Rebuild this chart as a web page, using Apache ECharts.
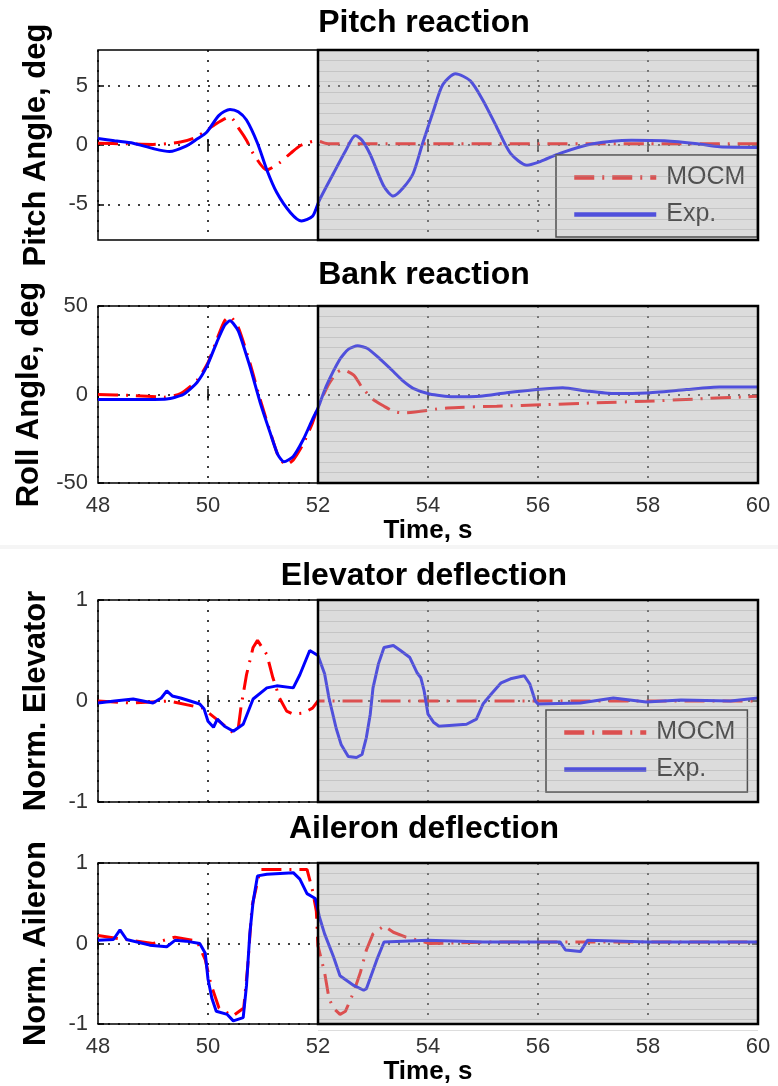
<!DOCTYPE html>
<html>
<head>
<meta charset="utf-8">
<script src="https://cdn.jsdelivr.net/npm/echarts@6/dist/echarts.min.js"></script>
<style>
  html, body { margin: 0; padding: 0; background: #fff; }
  #main { width: 778px; height: 1086px; }
</style>
</head>
<body>
<div id="main"></div>
<script>
// time axis (s) and shaded span
const timeMin = 48, timeMax = 60, timeStep = 2;
const shadeStart = 52, shadeEnd = 60;

const pitchTicks = [-5, 0, 5];
const bankTicks = [-50, 0, 50];
const normTicks = [-1, 0, 1];

// Pitch reaction, deg
const pitchExp = [[48, 0.55], [48.3, 0.35], [48.64, 0.15], [49.0, -0.3], [49.3, -0.55], [49.6, -0.1], [49.8, 0.5],
  [49.98, 1.1], [50.2, 2.5], [50.4, 3.0], [50.55, 2.8], [50.7, 2.1], [50.9, 0.15], [51.07, -2.1], [51.25, -4.0],
  [51.5, -5.7], [51.7, -6.4], [51.9, -6.0], [52.02, -4.7], [52.28, -2.4], [52.5, -0.5], [52.68, 0.8], [52.8, 0.4],
  [52.95, -0.8], [53.2, -3.5], [53.37, -4.3], [53.55, -3.6], [53.73, -2.4], [53.9, 0.1], [54.1, 2.9], [54.27, 5.1],
  [54.5, 6.0], [54.77, 5.4], [55.0, 3.75], [55.25, 1.5], [55.5, -0.7], [55.8, -1.7], [56.04, -1.4], [56.4, -0.7],
  [57.0, 0.1], [57.7, 0.4], [58.3, 0.35], [58.9, 0.1], [59.3, -0.15], [60, -0.2]];
const pitchMocm = [[48, 0.15], [48.5, 0.1], [49.0, 0.05], [49.5, 0.25], [49.8, 0.7], [50.15, 1.8], [50.4, 2.35],
  [50.58, 1.25], [50.7, 0.4], [50.82, -0.7], [51.07, -2.1], [51.3, -1.5], [51.5, -0.7], [51.7, 0.0], [51.97, 0.35],
  [52.2, 0.1], [53, 0.1], [54, 0.1], [56, 0.1], [58, 0.1], [60, 0.1]];

// Bank reaction, deg
const bankExp = [[48, -2.8], [48.6, -2.8], [49.25, -2.5], [49.55, 0], [49.8, 6.8], [49.98, 16], [50.16, 29.5],
  [50.3, 39], [50.4, 41.6], [50.55, 36], [50.76, 16], [50.95, -4.7], [51.13, -21.6], [51.27, -34], [51.38, -38],
  [51.55, -35], [51.73, -25.6], [51.9, -14], [52.0, -7.6], [52.15, 4.7], [52.4, 20], [52.55, 25.5], [52.72, 27.5],
  [52.9, 26], [53.13, 20], [53.37, 13], [53.55, 7.5], [53.73, 3.5], [54.03, 0.3], [54.45, -1.3], [54.95, -1],
  [55.43, 1], [55.98, 2.8], [56.45, 3.8], [56.9, 1.9], [57.37, 0.5], [57.97, 0.9], [58.7, 2.8], [59.3, 4.2], [60, 4.2]];
const bankMocm = [[48, 0], [48.6, -0.5], [49.2, -1.5], [49.5, 0.5], [49.8, 8], [50.0, 18], [50.16, 31], [50.3, 41.5],
  [50.4, 44], [50.55, 38], [50.76, 18], [50.95, -3], [51.13, -21], [51.28, -35], [51.42, -39.8], [51.55, -37],
  [51.73, -28], [51.9, -16], [52.0, -7], [52.2, 6], [52.35, 12.5], [52.45, 14], [52.65, 11], [52.8, 4], [53.0, -2.8],
  [53.2, -6.6], [53.37, -9.5], [53.55, -10.4], [54.35, -7.6], [55.25, -6.6], [56.16, -5.7], [57.07, -4.7],
  [57.97, -3.8], [58.9, -2.5], [59.8, -1.3], [60, -1.0]];

// Elevator deflection, normalised
const elevExp = [[48, -0.02], [48.3, 0.0], [48.64, 0.02], [49.0, -0.02], [49.15, 0.03], [49.25, 0.1], [49.35, 0.05],
  [49.5, 0.03], [49.85, -0.03], [49.93, -0.08], [50.0, -0.2], [50.1, -0.26], [50.17, -0.18], [50.3, -0.25],
  [50.46, -0.3], [50.64, -0.23], [50.82, 0.02], [51.07, 0.13], [51.25, 0.15], [51.55, 0.13], [51.67, 0.26],
  [51.85, 0.5], [52.0, 0.45], [52.12, 0.27], [52.2, 0.03], [52.33, -0.27], [52.42, -0.43], [52.55, -0.55],
  [52.7, -0.56], [52.8, -0.53], [52.88, -0.36], [52.95, -0.13], [53.0, 0.13], [53.1, 0.37], [53.2, 0.53],
  [53.37, 0.55], [53.5, 0.5], [53.67, 0.43], [53.8, 0.28], [53.87, 0.23], [53.93, 0.1], [54.0, -0.13], [54.1, -0.21],
  [54.2, -0.25], [54.7, -0.23], [54.88, -0.18], [55.0, -0.03], [55.15, 0.07], [55.33, 0.18], [55.5, 0.22],
  [55.75, 0.25], [55.85, 0.17], [55.95, 0.0], [56.0, -0.03], [56.77, -0.02], [57.37, 0.03], [57.97, -0.01],
  [58.6, 0.01], [59.5, 0.0], [60, 0.03]];
const elevMocm = [[48, 0.0], [48.6, -0.02], [49.3, 0.0], [49.9, -0.07], [50.2, -0.2], [50.45, -0.31], [50.55, -0.27],
  [50.6, -0.06], [50.7, 0.26], [50.82, 0.53], [50.9, 0.6], [51.07, 0.46], [51.18, 0.23], [51.3, 0.03], [51.43, -0.1],
  [51.55, -0.13], [51.73, -0.12], [51.9, -0.07], [52.0, 0.0], [53, 0.0], [55, 0.0], [57, 0.0], [60, 0.0]];

// Aileron deflection, normalised
const ailExp = [[48, 0.04], [48.28, 0.05], [48.4, 0.17], [48.52, 0.05], [48.94, -0.02], [49.25, -0.04], [49.4, 0.04],
  [49.6, 0.03], [49.85, 0.0], [49.95, -0.12], [50.0, -0.44], [50.07, -0.68], [50.15, -0.84], [50.35, -0.88],
  [50.46, -0.96], [50.64, -0.92], [50.7, -0.52], [50.76, 0.12], [50.82, 0.52], [50.9, 0.84], [51.07, 0.86],
  [51.55, 0.88], [51.67, 0.8], [51.8, 0.62], [51.95, 0.56], [52.03, 0.32], [52.12, 0.12], [52.28, -0.16],
  [52.4, -0.4], [52.65, -0.52], [52.83, -0.58], [52.88, -0.56], [53.07, -0.2], [53.2, 0.02], [54, 0.04], [55, 0.02],
  [56.4, 0.02], [56.5, -0.08], [56.77, -0.1], [56.9, 0.04], [58, 0.02], [60, 0.02]];
const ailMocm = [[48, 0.1], [48.5, 0.05], [49.0, 0.0], [49.4, 0.08], [49.8, 0.03], [49.95, -0.2], [50.05, -0.5],
  [50.2, -0.8], [50.45, -0.9], [50.65, -0.8], [50.72, -0.3], [50.8, 0.46], [50.95, 0.92], [51.8, 0.92], [51.9, 0.66],
  [51.97, 0.4], [52.0, -0.03], [52.12, -0.36], [52.2, -0.68], [52.28, -0.8], [52.4, -0.88], [52.5, -0.84],
  [52.65, -0.6], [52.77, -0.36], [52.88, -0.08], [53.0, 0.12], [53.2, 0.22], [53.37, 0.14], [53.6, 0.08],
  [54.03, 0.0], [55.25, 0.02], [57, 0.02], [60, 0.02]];

const FONT = '"Liberation Sans", Arial, sans-serif';

const panels = [
  { title: 'Pitch reaction', yName: 'Pitch Angle, deg', yMin: -8, yMax: 8, ticks: pitchTicks,
    exp: pitchExp, mocm: pitchMocm, top: 50, height: 190, titleTop: 7, time: false,
    legend: { left: 556, top: 155 }, smooth: 0.25, hatch: 18 },
  { title: 'Bank reaction', yName: 'Roll Angle, deg', yMin: -50, yMax: 50, ticks: bankTicks,
    exp: bankExp, mocm: bankMocm, top: 306, height: 177, titleTop: 259, time: true,
    legend: null, smooth: 0.2, hatch: 17 },
  { title: 'Elevator deflection', yName: 'Norm. Elevator', yMin: -1, yMax: 1, ticks: normTicks,
    exp: elevExp, mocm: elevMocm, top: 600, height: 202, titleTop: 560, time: false,
    legend: { left: 546, top: 710 }, smooth: false, hatch: 19 },
  { title: 'Aileron deflection', yName: 'Norm. Aileron', yMin: -1, yMax: 1, ticks: normTicks,
    exp: ailExp, mocm: ailMocm, top: 863, height: 167, titleTop: 813, time: true,
    legend: null, smooth: false, hatch: 16 }
];

const dotted = { color: '#000', width: 1.5, type: [2, 8] };
const tick = { inside: true, length: 6, lineStyle: { color: '#000', width: 1.5 } };

const grid = [], xAxis = [], yAxis = [], series = [], title = [], legend = [];

panels.forEach((p, i) => {
  const g = grid.length;
  grid.push({ left: 98, right: 20, top: p.top, height: p.height, show: true,
    borderColor: '#000', borderWidth: 1.5, backgroundColor: 'transparent' });
  grid.push({ left: 318, right: 20, top: p.top, height: p.height });

  const xi = xAxis.length, yi = yAxis.length;
  xAxis.push({
    gridIndex: g, type: 'value', min: timeMin, max: timeMax, interval: timeStep, position: 'bottom',
    axisLine: { show: false }, axisTick: tick,
    axisLabel: { show: p.time, fontSize: 22, color: '#333', margin: 12, fontFamily: FONT },
    splitLine: { show: true, lineStyle: dotted },
    name: p.time ? 'Time, s' : '', nameLocation: 'middle', nameGap: 32,
    nameTextStyle: { fontSize: 26, fontWeight: 'bold', color: '#000', fontFamily: FONT }
  });
  xAxis.push({ gridIndex: g, type: 'value', min: timeMin, max: timeMax, interval: timeStep, position: 'top',
    axisLine: { show: false }, axisTick: tick, axisLabel: { show: false }, splitLine: { show: false } });
  xAxis.push({ gridIndex: g + 1, type: 'value', min: shadeStart, max: shadeEnd, show: false });

  yAxis.push({
    gridIndex: g, type: 'value', min: p.yMin, max: p.yMax, position: 'left',
    axisLine: { show: false },
    axisTick: Object.assign({ customValues: p.ticks }, tick),
    axisLabel: { customValues: p.ticks, fontSize: 22, color: '#333', margin: 10, fontFamily: FONT },
    splitLine: { show: true, lineStyle: dotted },
    name: p.yName, nameLocation: 'middle', nameGap: 46,
    nameTextStyle: { fontSize: 31, fontWeight: 'bold', color: '#000', fontFamily: FONT }
  });
  yAxis.push({ gridIndex: g, type: 'value', min: p.yMin, max: p.yMax, position: 'right',
    axisLine: { show: false }, axisTick: Object.assign({ customValues: p.ticks }, tick),
    axisLabel: { show: false }, splitLine: { show: false } });
  // fine hatch lines of the shaded patch
  yAxis.push({ gridIndex: g + 1, type: 'value', min: 0, max: p.hatch, interval: 1, z: 12,
    axisLine: { show: false }, axisTick: { show: false }, axisLabel: { show: false },
    splitLine: { show: true, lineStyle: { color: 'rgba(150,150,150,0.32)', width: 1 } } });

  series.push({ name: 'MOCM', type: 'line', xAxisIndex: xi, yAxisIndex: yi, data: p.mocm,
    symbol: 'none', showSymbol: false, smooth: p.smooth, z: 2,
    lineStyle: { color: '#ff0000', width: 3, type: [20, 8, 2, 8] }, itemStyle: { color: '#ff0000' } });
  series.push({ name: 'Exp.', type: 'line', xAxisIndex: xi, yAxisIndex: yi, data: p.exp,
    symbol: 'none', showSymbol: false, smooth: p.smooth, z: 3,
    lineStyle: { color: '#0000ff', width: 3 }, itemStyle: { color: '#0000ff' } });
  // translucent grey patch over the post-52 s part
  series.push({ type: 'line', xAxisIndex: xi, yAxisIndex: yi, data: [], silent: true, z: 10,
    markArea: { silent: true, z: 10, itemStyle: { color: 'rgba(178,178,178,0.45)' },
      data: [[{ xAxis: shadeStart }, { xAxis: shadeEnd }]] } });
  series.push({ type: 'line', xAxisIndex: xi, yAxisIndex: yi, data: [], silent: true, z: 14,
    markArea: { silent: true, z: 14,
      itemStyle: { color: 'rgba(0,0,0,0)', borderColor: '#000', borderWidth: 2.5 },
      data: [[{ xAxis: shadeStart }, { xAxis: shadeEnd }]] } });

  title.push({ text: p.title, left: 424, top: p.titleTop, textAlign: 'center', padding: 0,
    textStyle: { fontSize: 32, fontWeight: 'bold', color: '#000', fontFamily: FONT } });

  if (p.legend) {
    legend.push({ data: ['MOCM', 'Exp.'], orient: 'vertical', left: p.legend.left, top: p.legend.top,
      itemWidth: 82, itemHeight: 14, itemGap: 12, padding: [10, 12, 10, 16], z: 5,
      itemStyle: { opacity: 0 }, lineStyle: { width: 4.5 },
      backgroundColor: '#fff', borderColor: '#000', borderWidth: 1.5, selectedMode: false,
      textStyle: { fontSize: 25, color: '#000', fontFamily: FONT, padding: [0, 0, 0, 5] } });
  }
});

const chart = echarts.init(document.getElementById('main'));
chart.setOption({
  animation: false,
  backgroundColor: '#fff',
  title: title,
  legend: legend,
  grid: grid,
  xAxis: xAxis,
  yAxis: yAxis,
  series: series,
  graphic: [{ type: 'rect', left: 0, top: 545, shape: { width: 778, height: 4 }, style: { fill: '#f5f5f5' }, z: -1 }]
});
</script>
</body>
</html>
